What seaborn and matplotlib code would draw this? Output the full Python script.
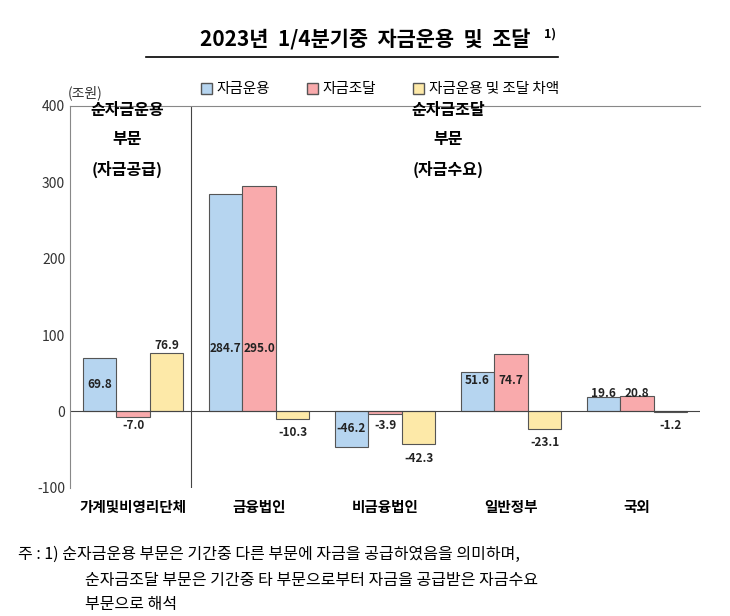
import pandas as pd
import matplotlib.pyplot as plt
import seaborn as sns
from matplotlib.patches import Patch
from matplotlib import font_manager

names = {f.name for f in font_manager.fontManager.ttflist}
kfont = next((n for n in ["Noto Sans CJK KR", "Noto Sans CJK JP", "Noto Sans CJK SC"] if n in names), "DejaVu Sans")
plt.rcParams["font.family"] = kfont
plt.rcParams["axes.unicode_minus"] = False

# --- DATA ---
sectors = ["가계및비영리단체", "금융법인", "비금융법인", "일반정부", "국외"]
series = ["자금운용", "자금조달", "자금운용 및 조달 차액"]
uses = [69.8, 284.7, -46.2, 51.6, 19.6]
sources = [-7.0, 295.0, -3.9, 74.7, 20.8]
net = [76.9, -10.3, -42.3, -23.1, -1.2]
colors = ["#b6d5f0", "#f9aaac", "#fde9a8"]

df = pd.DataFrame({
    "sector": sectors * 3,
    "series": [s for s in series for _ in sectors],
    "value": uses + sources + net,
})

fig = plt.figure(figsize=(7.3, 6.16), dpi=100)
ax = fig.add_axes([0.096, 0.208, 0.863, 0.62])
sns.barplot(data=df, x="sector", y="value", hue="series", palette=colors, saturation=1,
            width=0.8, edgecolor="#555555", linewidth=0.8, ax=ax, legend=False)

ax.set_ylim(-100, 400)
ax.set_xlim(-0.5, 4.5)
ax.set_yticks([-100, 0, 100, 200, 300, 400])
ax.tick_params(axis="y", length=0, labelsize=10, colors="#333333")
ax.tick_params(axis="x", length=0, labelsize=10.5, pad=8)
for lbl in ax.get_xticklabels():
    lbl.set_fontweight("bold")
ax.set_xlabel("")
ax.set_ylabel("")
ax.axhline(0, color="#444444", lw=0.8)
ax.axvline(-0.5 + 0.96, color="#444444", lw=0.8)
for sp in ["top", "right", "bottom"]:
    ax.spines[sp].set_visible(False)
ax.spines["left"].set_color("#888888")
ax.plot([-0.5, 4.5], [400, 400], color="#888888", lw=0.8, clip_on=False)

# value labels
bar_w = 0.8 / 3
label_y = [[35, 82, -22, 40, 24], [-18, 82, -18, 40, 24], [87, -27, -62, -40, -18]]
vals = [uses, sources, net]
for j in range(3):
    for i in range(5):
        x = i + (j - 1) * bar_w
        ax.text(x, label_y[j][i], f"{vals[j][i]:.1f}", ha="center", va="center",
                fontsize=8.5, fontweight="bold", color="#222222")

ax.text(-0.05, 355, "순자금운용\n부문\n(자금공급)", ha="center", va="center",
        fontsize=11.5, fontweight="bold", linespacing=2.0)
ax.text(2.5, 355, "순자금조달\n부문\n(자금수요)", ha="center", va="center",
        fontsize=11.5, fontweight="bold", linespacing=2.0)
ax.text(-0.52, 408, "(조원)", fontsize=10, color="#333333", va="bottom")

handles = [Patch(facecolor=c, edgecolor="#555555", label=s) for c, s in zip(colors, series)]
fig.legend(handles=handles, loc="center", bbox_to_anchor=(0.52, 0.855), ncol=3,
           frameon=False, fontsize=10.5, handlelength=0.8, handleheight=0.8,
           handletextpad=0.3, columnspacing=2.5)

fig.text(0.5, 0.935, "2023년  1/4분기중  자금운용  및  조달", ha="center", va="center",
         fontsize=15, fontweight="bold")
fig.text(0.745, 0.944, "1)", fontsize=9, fontweight="bold", va="center")
fig.add_artist(plt.Line2D([0.2, 0.765], [0.907, 0.907], color="black", lw=1.2))

fig.text(0.025, 0.1, "주 : 1) 순자금운용 부문은 기간중 다른 부문에 자금을 공급하였음을 의미하며,", fontsize=11.5, va="center")
fig.text(0.117, 0.058, "순자금조달 부문은 기간중 타 부문으로부터 자금을 공급받은 자금수요", fontsize=11.5, va="center")
fig.text(0.117, 0.018, "부문으로 해석", fontsize=11.5, va="center")

fig.savefig("out.png", dpi=100)
